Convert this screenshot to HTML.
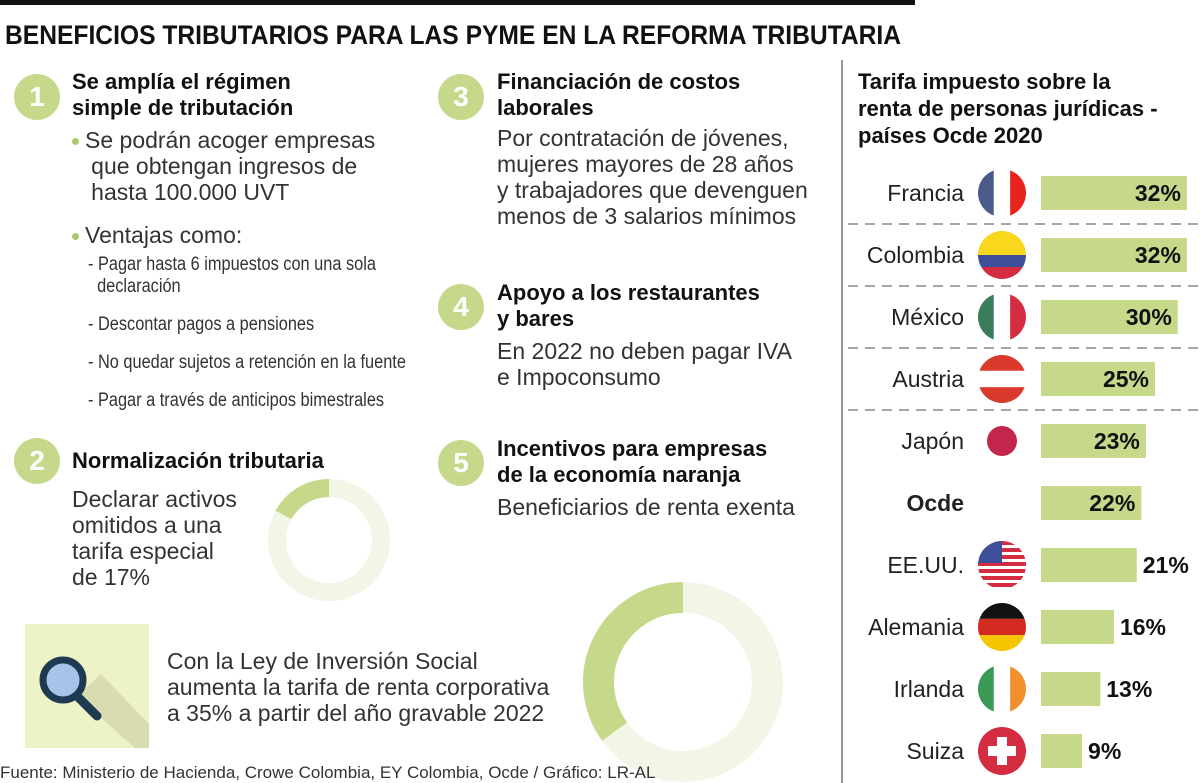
<!DOCTYPE html>
<html><head><meta charset="utf-8"><style>
body{margin:0;width:1200px;height:783px;background:#fff;position:relative;overflow:hidden;font-family:"Liberation Sans Narrow","Liberation Sans",sans-serif;color:#222}
.a{position:absolute}
.num{position:absolute;width:46px;height:46px;border-radius:50%;background:#c6d98b;color:#fff;font:bold 28px "Liberation Sans",sans-serif;text-align:center;line-height:46px}
.h{position:absolute;font:bold 22px/26px "Liberation Sans",sans-serif;color:#111}
.t{position:absolute;font-size:23px;line-height:26px;color:#333}
.s{position:absolute;font-size:19px;line-height:22px;color:#333;transform:scaleX(0.86);transform-origin:0 0;white-space:nowrap}
.dot{display:inline-block;width:7px;height:7px;border-radius:50%;background:#a9c96a;margin-right:6px;vertical-align:middle}
</style></head><body>
<div class="a" style="left:0;top:0;width:915px;height:5px;background:#111"></div>
<div class="a" style="left:5px;top:20px;font:bold 27px 'Liberation Sans Narrow','Liberation Sans',sans-serif;color:#111;transform:scaleX(0.912);transform-origin:0 0;white-space:nowrap">BENEFICIOS TRIBUTARIOS PARA LAS PYME EN LA REFORMA TRIBUTARIA</div>

<div class="num" style="left:14px;top:74px">1</div>
<div class="h" style="left:72px;top:69px">Se amplía el régimen<br>simple de tributación</div>
<div class="t" style="left:72px;top:127px"><span class="dot"></span>Se podrán acoger empresas<br>&nbsp;&nbsp;&nbsp;que obtengan ingresos de<br>&nbsp;&nbsp;&nbsp;hasta 100.000 UVT</div>
<div class="t" style="left:72px;top:222px"><span class="dot"></span>Ventajas como:</div>
<div class="s" style="left:88px;top:254px">- Pagar hasta 6 impuestos con una sola<br>&nbsp;&nbsp;declaración<div style="height:16px"></div>- Descontar pagos a pensiones<div style="height:16px"></div>- No quedar sujetos a retención en la fuente<div style="height:16px"></div>- Pagar a través de anticipos bimestrales</div>

<div class="num" style="left:14px;top:438px">2</div>
<div class="h" style="left:72px;top:448px">Normalización tributaria</div>
<div class="t" style="left:72px;top:486px">Declarar activos<br>omitidos a una<br>tarifa especial<br>de 17%</div>
<svg class="a" style="left:0;top:0" width="1200" height="783" id="donuts"></svg>

<div class="num" style="left:438px;top:74px">3</div>
<div class="h" style="left:497px;top:69px">Financiación de costos<br>laborales</div>
<div class="t" style="left:497px;top:125px">Por contratación de jóvenes,<br>mujeres mayores de 28 años<br>y trabajadores que devenguen<br>menos de 3 salarios mínimos</div>
<div class="num" style="left:438px;top:284px">4</div>
<div class="h" style="left:497px;top:280px">Apoyo a los restaurantes<br>y bares</div>
<div class="t" style="left:497px;top:338px">En 2022 no deben pagar IVA<br>e Impoconsumo</div>
<div class="num" style="left:438px;top:440px">5</div>
<div class="h" style="left:497px;top:436px">Incentivos para empresas<br>de la economía naranja</div>
<div class="t" style="left:497px;top:494px">Beneficiarios de renta exenta</div>

<div class="a" style="left:25px;top:624px;width:124px;height:124px;background:#eef2c7;overflow:hidden">
<svg width="124" height="124"><polygon points="52,72 110,124 124,124 124,100 76,50" fill="#d8dcb0"/><line x1="48" y1="68" x2="72" y2="92" stroke="#1d3a52" stroke-width="9" stroke-linecap="round"/><circle cx="38" cy="56" r="20" fill="#a7c3ea" stroke="#1d3a52" stroke-width="7"/></svg></div>
<div class="t" style="left:167px;top:648px">Con la Ley de Inversión Social<br>aumenta la tarifa de renta corporativa<br>a 35% a partir del año gravable 2022</div>
<div class="a" style="left:0;top:763px;font-size:17px;color:#333">Fuente: Ministerio de Hacienda, Crowe Colombia, EY Colombia, Ocde / Gráfico: LR-AL</div>

<div class="a" style="left:841px;top:60px;width:2px;height:723px;background:#999"></div>
<div class="h" style="left:858px;top:68px;line-height:27px">Tarifa impuesto sobre la<br>renta de personas jurídicas -<br>países Ocde 2020</div>
<svg class="a" id="chart" style="left:843px;top:160px" width="357" height="623"></svg>
<script>
const countries=["Francia","Colombia","México","Austria","Japón","Ocde","EE.UU.","Alemania","Irlanda","Suiza"];
const values=[32,32,30,25,23,22,21,16,13,9];
const labels=["32%","32%","30%","25%","23%","22%","21%","16%","13%","9%"];
const donutValues=[17,35];
const NS="http://www.w3.org/2000/svg";
function mk(p,t,a){const e=document.createElementNS(NS,t);for(const k in a)e.setAttribute(k,a[k]);p.appendChild(e);return e;}
const svg=document.getElementById('chart');
const x0=198,perPct=4.56,rowH=62,top0=33;
const x=v=>v*perPct;const yC=i=>top0+i*rowH;
const flags=[
 [["#4a5a8a",0,.33],["#fff",.33,.67],["#e8231d",.67,1]],
 [["#f9d71c",0,.5,"h"],["#3d4e9a",.5,.75,"h"],["#d42c40",.75,1,"h"]],
 [["#3a7d5a",0,.33],["#fff",.33,.67],["#d42c40",.67,1]],
 [["#d93a2b",0,.33,"h"],["#fff",.33,.67,"h"],["#d93a2b",.67,1,"h"]],
 "jp",null,"us",
 [["#111",0,.33,"h"],["#d52a20",.33,.67,"h"],["#f6c500",.67,1,"h"]],
 [["#3a9a55",0,.33],["#fff",.33,.67],["#f1902c",.67,1]],
 "ch"];
const defs=mk(svg,'defs',{});
countries.forEach((c,i)=>{
 const cy=yC(i);
 const lab=mk(svg,'text',{x:121,y:cy+8,'text-anchor':'end','font-size':23,'font-family':'"Liberation Sans Narrow","Liberation Sans",sans-serif',fill:'#222','font-weight':c=="Ocde"?'bold':'normal'});
 lab.textContent=c;
 
 
 const f=flags[i];
 if(f){
  const cp=mk(defs,'clipPath',{id:'c'+i});mk(cp,'circle',{cx:159,cy:cy,r:24});
  const g=mk(svg,'g',{'clip-path':'url(#c'+i+')'});
  
  
  if(f=="jp"){mk(g,'circle',{cx:159,cy:cy,r:15,fill:'#c4254a'});}
  else if(f=="us"){for(let k=0;k<7;k++)mk(g,'rect',{x:135,y:cy-24+k*7,width:48,height:4,fill:'#d42c40'});mk(g,'rect',{x:135,y:cy-24,width:24,height:22,fill:'#3d4e9a'});}
  else if(f=="ch"){mk(g,'rect',{x:135,y:cy-24,width:48,height:48,fill:'#d42c40'});mk(g,'rect',{x:154,y:cy-14,width:10,height:28,fill:'#fff'});mk(g,'rect',{x:145,y:cy-5,width:28,height:10,fill:'#fff'});}
  else f.forEach(s=>{if(s[3]=="h")mk(g,'rect',{x:135,y:cy-24+s[1]*48,width:48,height:(s[2]-s[1])*48,fill:s[0]});else mk(g,'rect',{x:135+s[1]*48,y:cy-24,width:(s[2]-s[1])*48,height:48,fill:s[0]});});
 }
 const b=mk(svg,'rect',{x:x0,y:cy-17,width:x(values[i]),height:34,fill:'#c6d98b'});
 
 
 const inside=values[i]>=22;
 const vt=mk(svg,'text',{x:inside?x0+x(values[i])-6:x0+x(values[i])+6,y:cy+8,'text-anchor':inside?'end':'start','font-size':23,'font-weight':'bold','font-family':'"Liberation Sans",sans-serif',fill:'#111'});
 vt.textContent=labels[i];
 
 
 if(i<4){const l=mk(svg,'line',{x1:5,x2:357,y1:cy+31,y2:cy+31,stroke:'#888','stroke-width':1.5,'stroke-dasharray':'10,7'});
 
 }
});
const ds=document.getElementById('donuts');
function donut(cx,cy,R,w,v,name){
 const r=R-w/2;
 const bg=mk(ds,'circle',{cx,cy,r,fill:'none',stroke:'#f1f6e6','stroke-width':w});
 
 
 const a=-Math.PI/2-2*Math.PI*v/100;
 const x1=cx+r*Math.cos(a),y1=cy+r*Math.sin(a);
 const p=mk(ds,'path',{d:`M${cx} ${cy-r} A${r} ${r} 0 ${v>50?1:0} 0 ${x1} ${y1}`,fill:'none',stroke:'#c6d98b','stroke-width':w});
 
 
}
donut(329,540,61,18,donutValues[0],'donut-17');
donut(683,682,100,31,donutValues[1],'donut-35');
</script>
</body></html>
